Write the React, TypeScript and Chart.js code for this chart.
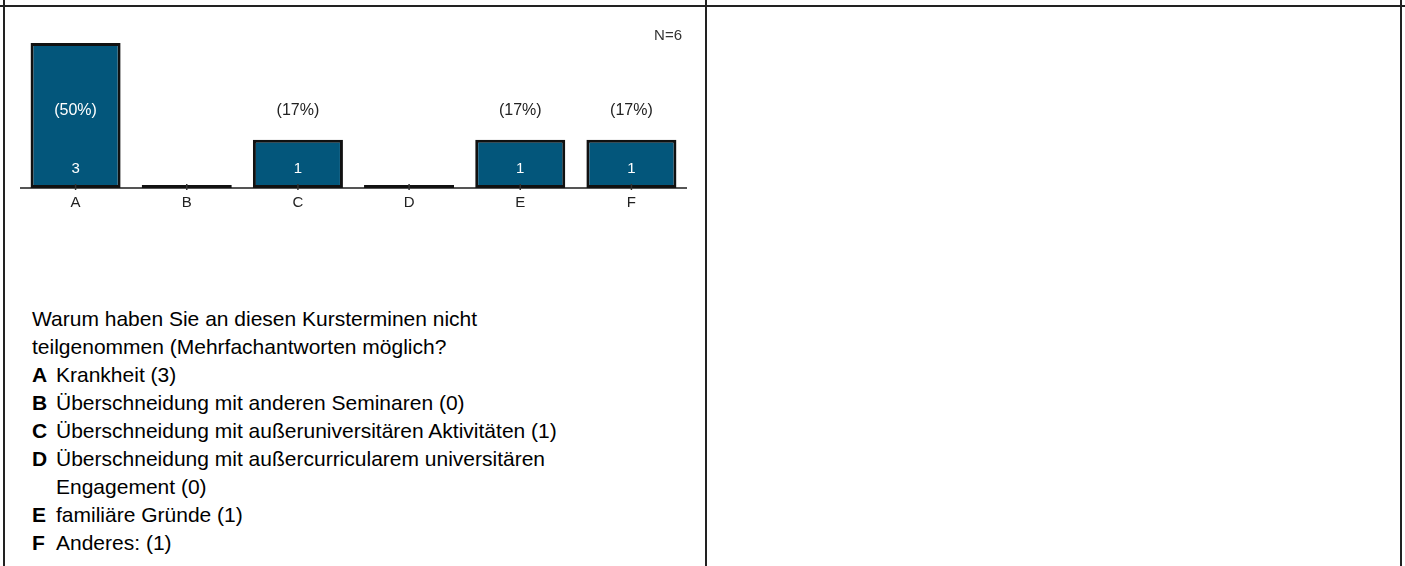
import React, { useEffect, useRef } from "react";
import { Chart, registerables } from "chart.js";

Chart.register(...registerables);

const categories = ["A", "B", "C", "D", "E", "F"];
const counts = [3, 0, 1, 0, 1, 1];
const percentLabels = ["(50%)", "", "(17%)", "", "(17%)", "(17%)"];
const totalLabel = "N=6";
const questionLines = [
  "Warum haben Sie an diesen Kursterminen nicht",
  "teilgenommen (Mehrfachantworten möglich?",
];
const answerLetters = ["A", "B", "C", "D", "", "E", "F"];
const answerTexts = [
  "Krankheit (3)",
  "Überschneidung mit anderen Seminaren (0)",
  "Überschneidung mit außeruniversitären Aktivitäten (1)",
  "Überschneidung mit außercurricularem universitären",
  "Engagement (0)",
  "familiäre Gründe (1)",
  "Anderes: (1)",
];

const BAR_COLOR = "#03567b";
const FONT = "Arial, 'Liberation Sans', sans-serif";
const PCT_Y = 1.6;
const COUNT_Y = 0.4;

const overlayPlugin = {
  id: "overlay",
  beforeDatasetsDraw(chart: any) {
    const { ctx, chartArea } = chart;
    ctx.save();
    ctx.strokeStyle = "#555";
    ctx.lineWidth = 2;
    ctx.beginPath();
    ctx.moveTo(chartArea.left, chartArea.bottom);
    ctx.lineTo(chartArea.right, chartArea.bottom);
    ctx.stroke();
    ctx.restore();
  },
  afterDatasetsDraw(chart: any) {
    const { ctx, chartArea } = chart;
    const xs = chart.scales.x;
    const ys = chart.scales.y;
    ctx.save();
    ctx.textAlign = "center";
    ctx.textBaseline = "middle";
    categories.forEach((c, i) => {
      const x = xs.getPixelForValue(i);
      ctx.strokeStyle = "#333";
      ctx.lineWidth = 1.5;
      ctx.beginPath();
      ctx.moveTo(x, chartArea.bottom - 4);
      ctx.lineTo(x, chartArea.bottom + 2);
      ctx.stroke();
      ctx.font = "15px " + FONT;
      ctx.fillStyle = "#222";
      ctx.fillText(c, x, chartArea.bottom + 15);
      if (counts[i] > 0) {
        ctx.fillStyle = "#fff";
        ctx.fillText(String(counts[i]), x, ys.getPixelForValue(COUNT_Y));
      }
      if (percentLabels[i]) {
        ctx.font = "16px " + FONT;
        ctx.fillStyle = counts[i] > PCT_Y ? "#fff" : "#222";
        ctx.fillText(percentLabels[i], x, ys.getPixelForValue(PCT_Y));
      }
    });
    ctx.font = "15px " + FONT;
    ctx.textAlign = "right";
    ctx.fillStyle = "#333";
    ctx.fillText(totalLabel, chartArea.right - 5, chartArea.top - 7);
    ctx.restore();
  },
};

function BarChart() {
  const ref = useRef<HTMLCanvasElement | null>(null);
  useEffect(() => {
    if (!ref.current) return;
    const chart = new Chart(ref.current, {
      type: "bar",
      data: {
        labels: categories,
        datasets: [
          {
            data: counts,
            backgroundColor: counts.map((v) => (v === 0 ? "#111" : BAR_COLOR)),
            borderColor: "#111",
            borderWidth: 3,
            borderSkipped: false,
            minBarLength: 3,
            barPercentage: 0.81,
            categoryPercentage: 1,
          },
        ],
      },
      options: {
        animation: false,
        responsive: false,
        maintainAspectRatio: false,
        layout: { padding: { left: 14, right: 17, top: 35, bottom: 20 } },
        plugins: { legend: { display: false }, tooltip: { enabled: false }, title: { display: false } },
        scales: {
          x: { display: false },
          y: { display: false, min: 0, max: 3 },
        },
      },
      plugins: [overlayPlugin],
    });
    return () => chart.destroy();
  }, []);
  return (
    <canvas
      ref={ref}
      width={698}
      height={200}
      style={{ position: "absolute", left: 6, top: 8, width: 698, height: 200 }}
    />
  );
}

const line = (style: React.CSSProperties) => (
  <div style={{ position: "absolute", background: "#222", ...style }} />
);

export default function App() {
  const LINE_H = 28;
  const FIRST_Y = 319;
  const rows: { letter: string; text: string }[] = [];
  questionLines.forEach((t) => rows.push({ letter: "", text: t }));
  answerTexts.forEach((t, i) => rows.push({ letter: answerLetters[i], text: t }));
  return (
    <div style={{ position: "absolute", left: 0, top: 0, width: 1405, height: 566, overflow: "hidden", background: "#fff", fontFamily: FONT }}>
      {line({ left: 0, top: 5, width: 1405, height: 2 })}
      {line({ left: 3, top: 0, width: 2, height: 566 })}
      {line({ left: 705, top: 0, width: 2, height: 566 })}
      {line({ left: 1400, top: 0, width: 2, height: 566 })}
      <BarChart />
      {rows.map((r, i) => {
        const isQuestion = i < questionLines.length;
        const indent = isQuestion ? 32 : 56;
        return (
          <div
            key={i}
            style={{
              position: "absolute",
              left: indent,
              top: FIRST_Y + i * LINE_H - LINE_H / 2,
              height: LINE_H,
              lineHeight: LINE_H + "px",
              fontSize: 21,
              color: "#000",
              whiteSpace: "nowrap",
            }}
          >
            {r.letter && (
              <span style={{ position: "absolute", left: -24, fontWeight: "bold" }}>{r.letter}</span>
            )}
            {r.text}
          </div>
        );
      })}
    </div>
  );
}
